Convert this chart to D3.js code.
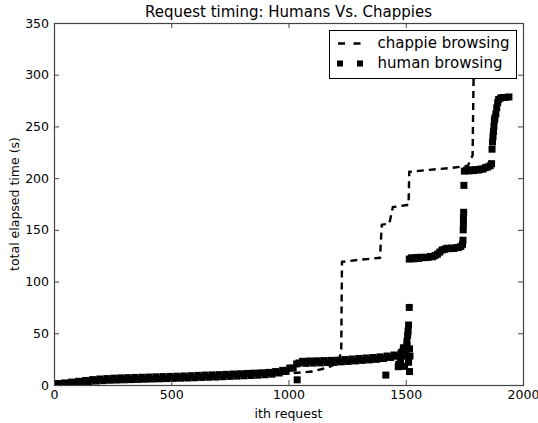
<!DOCTYPE html>
<html>
<head>
<meta charset="utf-8">
<script src="https://cdn.jsdelivr.net/npm/d3@7"></script>
<style>
	html, body { margin: 0; padding: 0; background: white; }
	#outer { width: 538px; height: 423px; }
</style>
</head>
<body>
<div id="outer"></div>
<script>

////////// Data //////////
const xTicks = [0, 500, 1000, 1500, 2000];
const yTicks = [0, 50, 100, 150, 200, 250, 300, 350];

// chappie browsing (dashed line)
const chappieIdx = [0, 150, 400, 700, 1000, 1100, 1170, 1215, 1225, 1228, 1300, 1390, 1398, 1430, 1445, 1505, 1512, 1515, 1600, 1700, 1765, 1785, 1790];
const chappieTime = [0, 3, 5, 8, 11, 13, 17, 22, 35, 119, 121, 123, 155, 156, 172, 174, 174, 206, 208, 210, 212, 222, 310];

// human browsing (square markers)
const humanIdx = [
	0, 15, 30, 45, 60, 75, 90, 105, 120, 135, 150, 165, 180, 195, 210, 225, 240, 255, 270, 285,
	300, 315, 330, 345, 360, 375, 390, 405, 420, 435, 450, 465, 480, 495, 510, 525, 540, 555, 570, 585,
	600, 615, 630, 645, 660, 675, 690, 705, 720, 735, 750, 765, 780, 795, 810, 825, 840, 855, 870, 885,
	900, 915, 930, 945, 960, 975, 990, 1005, 1020, 1035,
	1045, 1060, 1075, 1090, 1105, 1120, 1135, 1150, 1165, 1180, 1195, 1210, 1225, 1240, 1255, 1270, 1285,
	1300, 1315, 1330, 1345, 1360, 1375, 1390, 1405, 1420, 1435, 1450, 1465, 1480, 1490, 1500, 1505,
	1470, 1478, 1485, 1490, 1495, 1500, 1505, 1508, 1510, 1512, 1515, 1516, 1512, 1518, 1516, 1037, 1415, 1468,
	1515, 1525, 1535, 1545, 1555, 1565, 1575, 1585, 1595, 1605, 1615, 1625, 1635, 1645, 1655, 1665, 1675,
	1685, 1695, 1705, 1715, 1725, 1735, 1742, 1744, 1745, 1746, 1746, 1747, 1748,
	1750, 1760, 1770, 1780, 1790, 1800, 1810, 1820, 1830, 1840, 1850, 1860, 1866, 1868, 1870, 1872, 1874,
	1876, 1878, 1880, 1884, 1888, 1892, 1896, 1905, 1915, 1925, 1940
];
const humanTime = [
	0.3, 1.4, 0.6, 2.0, 1.2, 2.8, 1.9, 3.6, 2.5, 4.4, 3.2, 5.2, 3.8, 5.8, 4.2, 6.2, 4.6, 6.6, 4.8, 6.9,
	5.0, 7.1, 5.2, 7.3, 5.4, 7.5, 5.6, 7.7, 5.8, 7.9, 6.0, 8.1, 6.2, 8.3, 6.4, 8.5, 6.6, 8.7, 6.8, 9.0,
	7.0, 9.3, 7.3, 9.6, 7.5, 9.8, 7.7, 10.0, 8.0, 10.3, 8.3, 10.6, 8.6, 10.9, 8.9, 11.2, 9.2, 11.5, 9.5, 11.8,
	9.9, 12.2, 10.5, 13.0, 11.6, 14.2, 13.3, 16.4, 16.3, 20.4,
	21.3, 22.9, 20.9, 23.2, 21.2, 23.4, 21.4, 23.6, 21.7, 23.8, 21.9, 24.0, 22.4, 24.6, 22.8, 25.1, 23.3,
	25.6, 23.8, 26.1, 24.3, 26.6, 24.8, 27.2, 25.6, 28.0, 26.6, 29.0, 27.8, 30.9, 28.8, 33.0, 38.0,
	20, 24, 32, 36, 18, 28, 42, 48, 52, 58, 75, 13, 22, 28, 35, 5, 9.6, 17.7,
	121.8, 123.0, 122.0, 123.3, 122.3, 123.5, 123.1, 123.4, 123.4, 124.3, 124.0, 125.2, 126.5, 128.5, 130.5, 131.2, 132.2,
	131.8, 132.4, 132.0, 132.8, 133.0, 134.0, 136.0, 140, 150, 156, 162, 167, 193,
	206.8, 207.8, 207.0, 208.0, 207.3, 208.3, 207.8, 208.8, 208.8, 210.2, 210.8, 212.0, 214.0, 228, 235, 240, 245,
	250, 256, 258, 262, 268, 273, 276, 277.5, 278, 278, 278.5
];


////////////////////////////////////////////////////////////////
	// Render
////////////////////////////////////////////////////////////////
function renderChart () {
	const width = 538;
	const height = 423;
	const plot = {left: 54, right: 523, top: 23, bottom: 385};
	const tickFont = '12.5px "DejaVu Sans"';
	const bigFont = '15px "DejaVu Sans"';
	const spineColor = '#444';
	const markerSize = 7;
	const dashPattern = '7,5';

	const svg = d3.select('#outer').append('svg')
		.attr('width', width)
		.attr('height', height)
		.style('font-family', '"DejaVu Sans", sans-serif');

	const x = d3.scaleLinear().domain([0, 2000]).range([plot.left, plot.right]);
	const y = d3.scaleLinear().domain([0, 350]).range([plot.bottom, plot.top]);

	svg.append('clipPath').attr('id', 'plotClip')
		.append('rect')
		.attr('x', plot.left).attr('y', plot.top)
		.attr('width', plot.right - plot.left).attr('height', plot.bottom - plot.top);

	// ********************** DATA ********************** //
	const chappie = chappieIdx.map((d, i) => [d, chappieTime[i]]);
	const human = humanIdx.map((d, i) => [d, humanTime[i]]);

	const dataGroup = svg.append('g').attr('clip-path', 'url(#plotClip)');

	dataGroup.append('path')
		.datum(chappie)
		.attr('fill', 'none')
		.attr('stroke', 'black')
		.attr('stroke-width', 2.4)
		.attr('stroke-dasharray', dashPattern)
		.attr('d', d3.line().x(d => x(d[0])).y(d => y(d[1])));

	dataGroup.selectAll('rect.human')
		.data(human)
		.enter().append('rect')
		.attr('class', 'human')
		.attr('x', d => x(d[0]) - markerSize / 2)
		.attr('y', d => y(d[1]) - markerSize / 2)
		.attr('width', markerSize)
		.attr('height', markerSize)
		.attr('fill', 'black');

	// ********************** AXES ********************** //
	const styleAxis = g => {
		g.select('.domain').remove();
		g.selectAll('.tick line').attr('stroke', spineColor);
		g.selectAll('.tick text').style('font', tickFont).attr('fill', 'black');
	};

	svg.append('g')
		.attr('transform', `translate(0, ${plot.bottom})`)
		.call(d3.axisBottom(x).tickValues(xTicks).tickSize(-5).tickPadding(5).tickFormat(d3.format('d')))
		.call(styleAxis);
	svg.append('g')
		.attr('transform', `translate(0, ${plot.top})`)
		.call(d3.axisTop(x).tickValues(xTicks).tickSize(-5).tickFormat(''))
		.call(styleAxis);
	svg.append('g')
		.attr('transform', `translate(${plot.left}, 0)`)
		.call(d3.axisLeft(y).tickValues(yTicks).tickSize(-5).tickPadding(5).tickFormat(d3.format('d')))
		.call(styleAxis);
	svg.append('g')
		.attr('transform', `translate(${plot.right}, 0)`)
		.call(d3.axisRight(y).tickValues(yTicks).tickSize(-5).tickFormat(''))
		.call(styleAxis);

	// frame
	svg.append('rect')
		.attr('x', plot.left + 0.5).attr('y', plot.top + 0.5)
		.attr('width', plot.right - plot.left).attr('height', plot.bottom - plot.top)
		.attr('fill', 'none')
		.attr('stroke', spineColor)
		.attr('stroke-width', 1.2);

	// ********************** LABELS ********************** //
	svg.append('text')
		.text('Request timing: Humans Vs. Chappies')
		.attr('x', (plot.left + plot.right) / 2)
		.attr('y', 17)
		.attr('text-anchor', 'middle')
		.style('font', bigFont);

	svg.append('text')
		.text('ith request')
		.attr('x', (plot.left + plot.right) / 2)
		.attr('y', 418)
		.attr('text-anchor', 'middle')
		.style('font', tickFont);

	svg.append('text')
		.text('total elapsed time (s)')
		.attr('transform', `translate(19, ${(plot.top + plot.bottom) / 2}) rotate(-90)`)
		.attr('text-anchor', 'middle')
		.style('font', tickFont);

	// ********************** LEGEND ********************** //
	const legend = svg.append('g').attr('transform', 'translate(329.5, 30.5)');
	legend.append('rect')
		.attr('width', 187)
		.attr('height', 48)
		.attr('fill', 'white')
		.attr('stroke', 'black')
		.attr('stroke-width', 1);

	legend.append('line')
		.attr('x1', 8.5).attr('x2', 31)
		.attr('y1', 13).attr('y2', 13)
		.attr('stroke', 'black')
		.attr('stroke-width', 2.4)
		.attr('stroke-dasharray', '7,8.5');
	legend.append('text').text('chappie browsing')
		.attr('x', 48).attr('y', 17.5)
		.style('font', bigFont);

	[10.5, 30.5].forEach(cx => legend.append('rect')
		.attr('x', cx - 3)
		.attr('y', 33 - 3)
		.attr('width', 6)
		.attr('height', 6)
		.attr('fill', 'black'));
	legend.append('text').text('human browsing')
		.attr('x', 48).attr('y', 37.5)
		.style('font', bigFont);
}

renderChart();
</script>
</body>
</html>
